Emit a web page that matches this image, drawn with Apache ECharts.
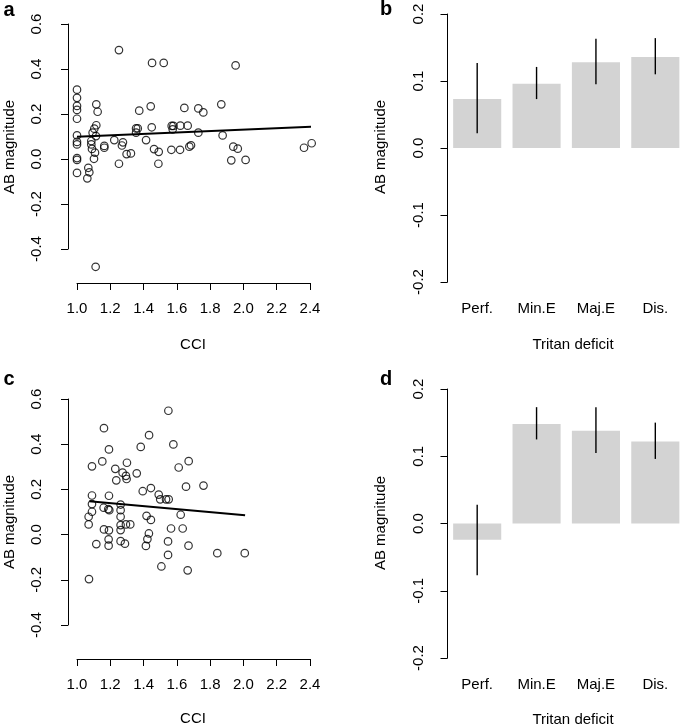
<!DOCTYPE html>
<html>
<head>
<meta charset="utf-8">
<script src="https://cdn.jsdelivr.net/npm/echarts@6/dist/echarts.min.js"></script>
<style>
html,body{margin:0;padding:0;background:#fff;}
#chart{width:685px;height:726px;}
</style>
</head>
<body>
<div id="chart"></div>
<script>
// ---------- DATA ----------
const xTicks = [1.0, 1.2, 1.4, 1.6, 1.8, 2.0, 2.2, 2.4];
const categories = ['Perf.', 'Min.E', 'Maj.E', 'Dis.'];

// Panel a: CCI vs AB magnitude
const scatterA = [
  [1.0,0.308],[1.0,0.272],[1.0,0.236],[1.0,0.218],[1.0,0.179],[1.0,0.105],[1.0,0.076],[1.0,0.065],[1.0,0.004],[1.0,-0.004],[1.0,-0.062],
  [1.116,0.243],[1.124,0.210],[1.116,0.150],[1.104,0.135],[1.094,0.117],[1.114,0.102],[1.086,0.080],[1.086,0.065],[1.09,0.045],
  [1.108,0.028],[1.102,0.001],[1.068,-0.039],[1.074,-0.059],[1.062,-0.086],[1.112,-0.479],
  [1.164,0.058],[1.164,0.050],[1.224,0.084],[1.252,-0.021],[1.276,0.074],[1.27,0.060],[1.298,0.022],[1.324,0.025],
  [1.355,0.136],[1.365,0.136],[1.355,0.117],[1.374,0.215],[1.415,0.084],[1.443,0.234],[1.449,0.141],[1.451,0.427],
  [1.463,0.044],[1.491,0.032],[1.489,-0.021],[1.521,0.427],[1.252,0.484],[1.569,0.147],[1.579,0.147],[1.575,0.132],
  [1.567,0.041],[1.619,0.041],[1.621,0.148],[1.645,0.227],[1.665,0.148],[1.675,0.055],[1.685,0.061],[1.729,0.225],
  [1.729,0.117],[1.759,0.207],[1.867,0.243],[1.875,0.105],[1.939,0.055],[1.966,0.046],[1.927,-0.006],[1.953,0.416],
  [2.013,-0.004],[2.364,0.050],[2.41,0.070]
];
const fitA = [[1.0,0.099],[2.41,0.143]];

// Panel c
const scatterC = [
  [1.162,0.471],[1.549,0.548],[1.433,0.440],[1.192,0.377],[1.383,0.388],[1.579,0.399],[1.09,0.302],[1.152,0.324],
  [1.30,0.318],[1.611,0.297],[1.671,0.325],[1.230,0.291],[1.274,0.274],[1.294,0.260],[1.298,0.246],[1.359,0.271],
  [1.236,0.240],[1.395,0.192],[1.444,0.206],[1.491,0.177],[1.50,0.156],[1.535,0.156],[1.551,0.156],[1.655,0.212],
  [1.760,0.217],[1.09,0.173],[1.192,0.172],[1.09,0.135],[1.07,0.079],[1.07,0.045],[1.09,0.101],[1.160,0.119],
  [1.188,0.113],[1.194,0.108],[1.262,0.133],[1.262,0.108],[1.262,0.079],[1.262,0.042],[1.262,0.020],[1.294,0.045],
  [1.32,0.045],[1.162,0.023],[1.192,0.019],[1.19,-0.021],[1.19,-0.049],[1.116,-0.042],[1.262,-0.029],[1.288,-0.040],
  [1.072,-0.197],[1.418,0.083],[1.444,0.065],[1.432,0.005],[1.423,-0.020],[1.414,-0.050],[1.565,0.027],[1.547,-0.030],
  [1.547,-0.090],[1.507,-0.141],[1.623,0.088],[1.635,0.027],[1.670,-0.049],[1.665,-0.158],[1.843,-0.082],[2.008,-0.082]
];
const fitC = [[1.074,0.148],[2.01,0.086]];

// Panel b
const meanB = [0.073, 0.096, 0.128, 0.136];
const loB   = [0.022, 0.073, 0.095, 0.110];
const hiB   = [0.127, 0.121, 0.163, 0.164];
// Panel d
const meanD = [-0.024, 0.148, 0.138, 0.122];
const loD   = [-0.077, 0.125, 0.105, 0.096];
const hiD   = [0.028, 0.173, 0.173, 0.150];

// ---------- STYLE ----------
const FONT = 'Liberation Sans, Arial, Helvetica, sans-serif';
const fmt1 = v => Number(v).toFixed(1);

function scatterAxes(gi){
  return {
    x: {
      type:'value', gridIndex:gi, min:1.0, max:2.4, interval:0.2, offset:34,
      axisLine:{show:true, onZero:false, lineStyle:{color:'#000', width:1}},
      axisTick:{show:true, length:7, lineStyle:{color:'#000', width:1}},
      axisLabel:{fontFamily:FONT, fontSize:15, color:'#000', margin:18, formatter:fmt1, showMinLabel:true, showMaxLabel:true},
      splitLine:{show:false}
    },
    y: {
      type:'value', gridIndex:gi, min:-0.4, max:0.6, interval:0.2, offset:9,
      axisLine:{show:true, onZero:false, lineStyle:{color:'#000', width:1}},
      axisTick:{show:true, length:7, lineStyle:{color:'#000', width:1}},
      axisLabel:{fontFamily:FONT, fontSize:15, color:'#000', rotate:90, margin:24, formatter:fmt1, showMinLabel:true, showMaxLabel:true},
      splitLine:{show:false}
    }
  };
}
function barAxes(gi){
  return {
    x: {
      type:'category', gridIndex:gi, data:categories,
      axisLine:{show:false, onZero:false}, axisTick:{show:false},
      axisLabel:{fontFamily:FONT, fontSize:15, color:'#000', margin:19, interval:0}
    },
    y: {
      type:'value', gridIndex:gi, min:-0.2, max:0.2, interval:0.1,
      axisLine:{show:true, onZero:false, lineStyle:{color:'#000', width:1}},
      axisTick:{show:true, length:7, lineStyle:{color:'#000', width:1}},
      axisLabel:{fontFamily:FONT, fontSize:15, color:'#000', rotate:90, margin:21, formatter:fmt1, showMinLabel:true, showMaxLabel:true},
      splitLine:{show:false}
    }
  };
}
const aAx = scatterAxes(0), bAx = barAxes(1), cAx = scatterAxes(2), dAx = barAxes(3);

const circleStyle = {color:'rgba(0,0,0,0)', borderColor:'#000', borderWidth:1.2};

function errRender(params, api){
  const i = api.value(0);
  const p1 = api.coord([i, api.value(1)]);
  const p2 = api.coord([i, api.value(2)]);
  return {type:'line', shape:{x1:p1[0], y1:p1[1], x2:p2[0], y2:p2[1]}, style:{stroke:'#000', lineWidth:1.4}};
}
const errB = categories.map((c,i)=>[i, loB[i], hiB[i]]);
const errD = categories.map((c,i)=>[i, loD[i], hiD[i]]);

function txt(text, x, y, opts){
  return Object.assign({type:'text', x:x, y:y, style:Object.assign({text:text, font:'15px '+FONT, fill:'#000', textAlign:'center', textVerticalAlign:'middle'}, opts && opts.style || {})}, opts && opts.el || {});
}

const option = {
  animation:false,
  backgroundColor:'#fff',
  grid:[
    {left:77, top:24, width:233, height:225},
    {left:447.5, top:14, width:243, height:268},
    {left:77, top:399, width:233, height:226},
    {left:447.5, top:389, width:243, height:269}
  ],
  xAxis:[aAx.x, bAx.x, cAx.x, dAx.x],
  yAxis:[aAx.y, bAx.y, cAx.y, dAx.y],
  series:[
    {type:'scatter', xAxisIndex:0, yAxisIndex:0, data:scatterA, symbol:'circle', symbolSize:7.5, itemStyle:circleStyle, clip:false},
    {type:'line', xAxisIndex:0, yAxisIndex:0, data:fitA, showSymbol:false, symbol:'none', lineStyle:{color:'#000', width:2}, clip:false},
    {type:'bar', xAxisIndex:1, yAxisIndex:1, data:meanB, barWidth:'81%', itemStyle:{color:'#d3d3d3'}},
    {type:'custom', xAxisIndex:1, yAxisIndex:1, data:errB, renderItem:errRender, z:5},
    {type:'scatter', xAxisIndex:2, yAxisIndex:2, data:scatterC, symbol:'circle', symbolSize:7.5, itemStyle:circleStyle, clip:false},
    {type:'line', xAxisIndex:2, yAxisIndex:2, data:fitC, showSymbol:false, symbol:'none', lineStyle:{color:'#000', width:2}, clip:false},
    {type:'bar', xAxisIndex:3, yAxisIndex:3, data:meanD, barWidth:'81%', itemStyle:{color:'#d3d3d3'}},
    {type:'custom', xAxisIndex:3, yAxisIndex:3, data:errD, renderItem:errRender, z:5}
  ],
  graphic:[
    txt('a', 9, 10, {style:{font:'bold 20px '+FONT}}),
    txt('b', 386, 9, {style:{font:'bold 20px '+FONT}}),
    txt('c', 9, 379, {style:{font:'bold 20px '+FONT}}),
    txt('d', 386, 379, {style:{font:'bold 20px '+FONT}}),
    txt('AB magnitude', 10, 147, {el:{rotation:Math.PI/2}}),
    txt('AB magnitude', 381, 147, {el:{rotation:Math.PI/2}}),
    txt('AB magnitude', 10, 522, {el:{rotation:Math.PI/2}}),
    txt('AB magnitude', 381, 523, {el:{rotation:Math.PI/2}}),
    txt('CCI', 193, 345),
    txt('CCI', 193, 719),
    txt('Tritan deficit', 573, 345),
    txt('Tritan deficit', 573, 720)
  ]
};
const chart = echarts.init(document.getElementById('chart'), null, {renderer:'canvas'});
chart.setOption(option);
</script>
</body>
</html>
